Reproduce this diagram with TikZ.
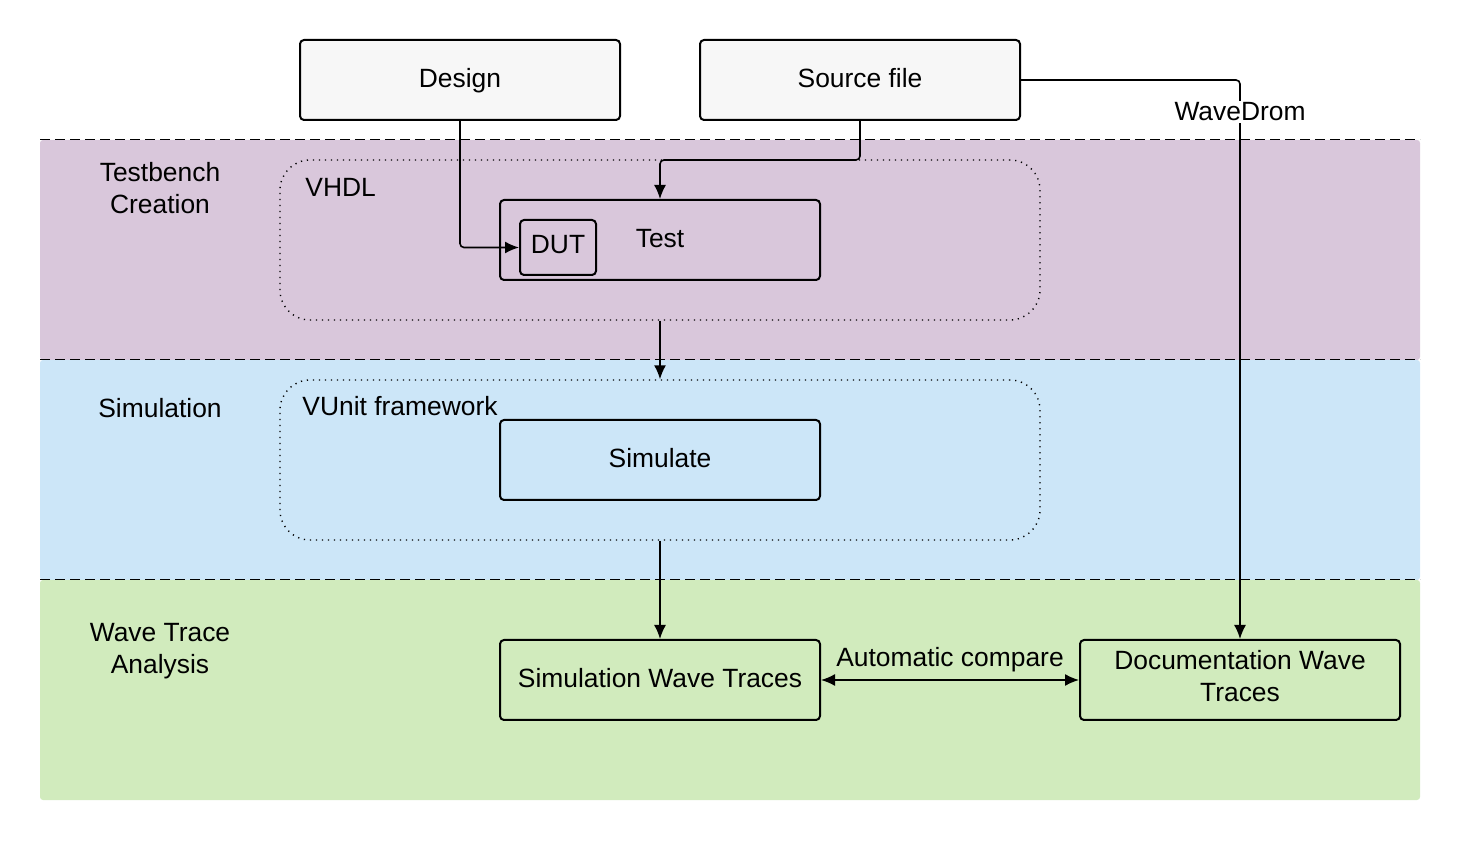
\documentclass[tikz,border=0pt]{standalone}
\usepackage{fontspec}
\setmainfont{Liberation Sans}
\usetikzlibrary{arrows.meta}

\begin{document}
\begin{tikzpicture}[x=10pt,y=10pt,
    font=\fontsize{13.2}{16}\selectfont,
    stepbox/.style={shape=rectangle,draw,line width=1pt,rounded corners=2pt,minimum width=160pt,minimum height=40pt,align=center,text depth=2pt},
    groupbox/.style={shape=rectangle,draw,line width=0.7pt,dash pattern=on 0.6pt off 2.4pt,rounded corners=15pt,minimum width=380pt,minimum height=80pt},
    bandline/.style={line width=0.5pt,dash pattern=on 5pt off 2.5pt},
    flow/.style={line width=0.8pt,rounded corners=2pt,-{Latex[length=7pt,width=6pt]}}]
\definecolor{wt_gray}{RGB}{247,247,247}
\definecolor{wt_purple}{RGB}{217,199,219}
\definecolor{wt_blue}{RGB}{204,230,248}
\definecolor{wt_green}{RGB}{209,235,189}
\useasboundingbox (0,0) rectangle (73,42);

% phase bands
\fill[wt_purple,rounded corners=1.5pt] (2,35) rectangle (71,24);
\fill[wt_blue,rounded corners=1.5pt] (2,24) rectangle (71,13);
\fill[wt_green,rounded corners=1.5pt] (2,13) rectangle (71,2);
\draw[bandline] (2,35) to (71,35);
\draw[bandline] (2,24) to (71,24);
\draw[bandline] (2,13) to (71,13);

\node[align=center] (tbc) at (8,32.6) {Testbench\\Creation};
\node (sim) at (8,21.6) {Simulation};
\node[align=center] (wta) at (8,9.45) {Wave Trace\\Analysis};

\node[stepbox,fill=wt_gray] (design) at (23,38) {Design};
\node[stepbox,fill=wt_gray] (src) at (43,38) {Source file};

\node[groupbox] (vhdl) at (33,30) {};
\node[anchor=west] (vhdllabel) at (14.92,32.65) {VHDL};
\node[stepbox] (test) at (33,30) {Test};
\node[shape=rectangle,draw,line width=1pt,rounded corners=2pt,minimum width=38pt,minimum height=27.5pt,inner sep=1pt,text depth=3pt] (dut) at (27.9,29.625) {DUT};

\node[groupbox] (vunit) at (33,19) {};
\node[anchor=west] (vunitlabel) at (14.77,21.7) {VUnit framework};
\node[stepbox] (simulate) at (33,19) {Simulate};

\node[stepbox] (simwave) at (33,8) {Simulation Wave Traces};
\node[stepbox,text depth=4pt] (docwave) at (62,8) {Documentation Wave\\Traces};

\coordinate (srcbend) at (43,34);

\draw[flow] (design.south) |- (dut.west);
\draw[flow] (src.south) to (srcbend) -| (test.north);
\draw[flow] (vhdl.south) to (vunit.north);
\draw[flow] (vunit.south) to (simwave.north);
\draw[flow] (src.east) -| (docwave.north);
\node[fill=white,inner sep=1pt] (wavedrom) at (62,36.4) {WaveDrom};
\draw[flow,{Latex[length=7pt,width=6pt]}-{Latex[length=7pt,width=6pt]}] (simwave.east) to node[above,yshift=0.5pt] (cmp) {Automatic compare} (docwave.west);
\end{tikzpicture}
\end{document}
